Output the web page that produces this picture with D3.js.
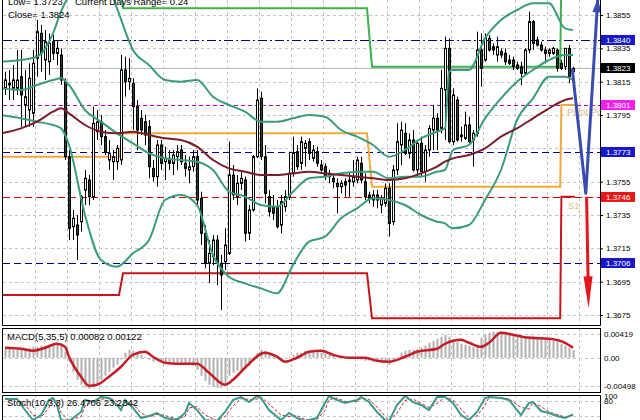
<!DOCTYPE html>
<html><head><meta charset="utf-8">
<script src="https://cdn.jsdelivr.net/npm/d3@7"></script>
<style>body{margin:0;background:#fff}svg{display:block;font-family:"Liberation Sans",Arial,sans-serif}</style>
</head><body><svg id="c" width="640" height="420"></svg>
<script>
// ---------- DATA ----------
const opens=[1.3811,1.3814,1.3811,1.3811,1.3818,1.3801,1.3798,1.3796,1.3829,1.3844,
1.3828,1.3827,1.3839,1.3832,1.3831,1.3815,1.3770,1.3728,1.3729,1.3731,
1.3750,1.3756,1.3746,1.3785,1.3791,1.3782,1.3768,1.3767,1.3767,1.3768,
1.3822,1.3815,1.3814,1.3800,1.3793,1.3791,1.3788,1.3763,1.3758,1.3777,
1.3767,1.3769,1.3766,1.3770,1.3774,1.3766,1.3762,1.3764,1.3770,1.3745,
1.3724,1.3706,1.3710,1.3720,1.3706,1.3707,1.3712,1.3759,1.3746,1.3754,
1.3756,1.3724,1.3738,1.3770,1.3805,1.3770,1.3746,1.3740,1.3740,1.3729,
1.3740,1.3746,1.3760,1.3773,1.3766,1.3775,1.3779,1.3769,1.3773,1.3765,
1.3764,1.3760,1.3757,1.3754,1.3752,1.3755,1.3755,1.3755,1.3756,1.3766,
1.3755,1.3747,1.3744,1.3747,1.3741,1.3742,1.3751,1.3731,1.3762,1.3777,
1.3784,1.3772,1.3780,1.3762,1.3778,1.3761,1.3774,1.3786,1.3793,1.3787,
1.3810,1.3835,1.3779,1.3804,1.3782,1.3781,1.3789,1.3780,1.3784,1.3834,
1.3828,1.3841,1.3836,1.3831,1.3833,1.3832,1.3828,1.3828,1.3825,1.3824,
1.3820,1.3834,1.3851,1.3840,1.3837,1.3834,1.3832,1.3832,1.3834,1.3826,
1.3824,1.3835,1.3821];
const highs=[1.3821,1.3822,1.3825,1.3834,1.3834,1.3822,1.3826,1.3834,1.3852,1.3849,
1.3846,1.3844,1.3843,1.3840,1.3835,1.3817,1.3774,1.3738,1.3735,1.3747,
1.3762,1.3759,1.3800,1.3798,1.3795,1.3786,1.3780,1.3774,1.3777,1.3831,
1.3830,1.3829,1.3817,1.3804,1.3798,1.3795,1.3792,1.3768,1.3780,1.3780,
1.3776,1.3774,1.3774,1.3777,1.3777,1.3771,1.3770,1.3774,1.3774,1.3749,
1.3729,1.3720,1.3723,1.3723,1.3711,1.3727,1.3779,1.3765,1.3759,1.3762,
1.3758,1.3741,1.3771,1.3811,1.3809,1.3777,1.3750,1.3747,1.3744,1.3747,
1.3750,1.3773,1.3782,1.3777,1.3782,1.3780,1.3781,1.3777,1.3776,1.3768,
1.3766,1.3762,1.3759,1.3757,1.3756,1.3757,1.3761,1.3768,1.3770,1.3770,
1.3760,1.3749,1.3750,1.3750,1.3747,1.3754,1.3754,1.3765,1.3790,1.3791,
1.3790,1.3784,1.3786,1.3780,1.3782,1.3777,1.3789,1.3801,1.3796,1.3822,
1.3842,1.3841,1.3811,1.3806,1.3788,1.3797,1.3794,1.3786,1.3845,1.3844,
1.3844,1.3843,1.3838,1.3842,1.3835,1.3835,1.3831,1.3830,1.3827,1.3827,
1.3835,1.3857,1.3852,1.3842,1.3839,1.3836,1.3835,1.3836,1.3835,1.3828,
1.3835,1.3837,1.3824];
const lows=[1.3807,1.3804,1.3804,1.3807,1.3788,1.3788,1.3788,1.3788,1.3818,1.3821,
1.3816,1.3819,1.3828,1.3825,1.3813,1.3768,1.3720,1.3720,1.3708,1.3725,
1.3741,1.3741,1.3744,1.3780,1.3777,1.3771,1.3762,1.3756,1.3762,1.3765,
1.3806,1.3810,1.3786,1.3774,1.3783,1.3777,1.3757,1.3755,1.3752,1.3762,
1.3756,1.3762,1.3759,1.3762,1.3765,1.3758,1.3754,1.3761,1.3741,1.3717,
1.3703,1.3694,1.3705,1.3693,1.3678,1.3702,1.3711,1.3744,1.3741,1.3750,
1.3719,1.3720,1.3737,1.3769,1.3768,1.3742,1.3734,1.3732,1.3727,1.3724,
1.3737,1.3744,1.3758,1.3762,1.3762,1.3764,1.3768,1.3767,1.3764,1.3761,
1.3756,1.3754,1.3751,1.3736,1.3748,1.3746,1.3746,1.3752,1.3754,1.3754,
1.3744,1.3742,1.3740,1.3739,1.3736,1.3740,1.3722,1.3729,1.3759,1.3765,
1.3771,1.3769,1.3761,1.3758,1.3758,1.3755,1.3770,1.3774,1.3774,1.3784,
1.3780,1.3778,1.3777,1.3779,1.3779,1.3780,1.3778,1.3764,1.3782,1.3812,
1.3827,1.3833,1.3831,1.3827,1.3829,1.3825,1.3825,1.3822,1.3822,1.3813,
1.3819,1.3832,1.3834,1.3836,1.3833,1.3826,1.3830,1.3831,1.3821,1.3822,
1.3822,1.3814,1.3820];
const closes=[1.3816,1.3813,1.3816,1.3816,1.3807,1.3806,1.3817,1.3826,1.3845,1.3832,
1.3839,1.3838,1.3832,1.3835,1.3816,1.3770,1.3727,1.3733,1.3723,1.3746,
1.3757,1.3746,1.3790,1.3791,1.3782,1.3773,1.3772,1.3770,1.3775,1.3822,
1.3815,1.3817,1.3800,1.3786,1.3786,1.3783,1.3764,1.3758,1.3777,1.3766,
1.3769,1.3766,1.3771,1.3773,1.3767,1.3763,1.3764,1.3770,1.3744,1.3724,
1.3706,1.3712,1.3720,1.3706,1.3699,1.3717,1.3759,1.3747,1.3754,1.3757,
1.3724,1.3738,1.3770,1.3804,1.3770,1.3748,1.3737,1.3736,1.3728,1.3743,
1.3746,1.3760,1.3772,1.3764,1.3779,1.3778,1.3772,1.3774,1.3766,1.3762,
1.3758,1.3758,1.3755,1.3752,1.3754,1.3753,1.3756,1.3758,1.3768,1.3756,
1.3746,1.3745,1.3747,1.3744,1.3745,1.3751,1.3730,1.3762,1.3779,1.3786,
1.3772,1.3780,1.3762,1.3778,1.3761,1.3774,1.3787,1.3793,1.3786,1.3811,
1.3835,1.3779,1.3807,1.3780,1.3783,1.3789,1.3779,1.3784,1.3834,1.3823,
1.3841,1.3834,1.3834,1.3836,1.3831,1.3827,1.3826,1.3824,1.3823,1.3820,
1.3834,1.3851,1.3838,1.3837,1.3834,1.3832,1.3834,1.3835,1.3823,1.3823,
1.3835,1.3818,1.3823];

// Bollinger bands and moving average, sampled at bar indexes
const bandIdx=[-1,4,8,12,14,16,20,24,28,32,36,40,44,48,52,56,60,64,68,72,76,80,84,88,92,96,100,104,108,110,111,112,116,120,124,128,132,136,140,142];
const bbUpper=[1.3827,1.3828,1.3830,1.3844,1.3857,1.3867,1.3882,1.3882,1.3859,1.3834,1.3825,1.3816,1.3815,1.3816,1.3806,1.3801,1.3797,1.3791,1.3791,1.3793,1.3795,1.3794,1.3786,1.3782,1.3777,1.3770,1.3774,1.3781,1.3785,1.3787,1.3821,1.3822,1.3822,1.3841,1.3852,1.3858,1.3862,1.3862,1.3847,1.3846];
const bbMiddle=[1.3811,1.3810,1.3813,1.3816,1.3817,1.3813,1.3798,1.3791,1.3784,1.3778,1.3772,1.3769,1.3768,1.3767,1.3762,1.3749,1.3746,1.3741,1.3740,1.3749,1.3757,1.3758,1.3760,1.3761,1.3761,1.3757,1.3758,1.3758,1.3761,1.3762,1.3768,1.3774,1.3777,1.3793,1.3805,1.3815,1.3822,1.3828,1.3831,1.3831];
const bbLower=[1.3795,1.3793,1.3791,1.3789,1.3787,1.3777,1.3735,1.3708,1.3704,1.3712,1.3720,1.3744,1.3747,1.3741,1.3711,1.3698,1.3694,1.3691,1.3688,1.3705,1.3719,1.3722,1.3733,1.3739,1.3745,1.3744,1.3741,1.3735,1.3731,1.3730,1.3728,1.3727,1.3729,1.3744,1.3762,1.3792,1.3805,1.3818,1.3818,1.3816];
const maLine=[1.3784,1.3787,1.3791,1.3797,1.3799,1.3796,1.3789,1.3785,1.3784,1.3785,1.3783,1.3781,1.3780,1.3776,1.3768,1.3763,1.3761,1.3759,1.3759,1.3760,1.3761,1.3760,1.3759,1.3758,1.3757,1.3756,1.3757,1.3760,1.3764,1.3767,1.3768,1.3769,1.3771,1.3775,1.3782,1.3787,1.3793,1.3799,1.3804,1.3805];

// daily pivot levels
const dayStart=[-1,29.5,91.75,139.1];
const dayEnd=[28.5,90.5,138.8,142.5];
const pivotP=[1.3770,1.3784,1.3752,1.3801];
const pivotR1=[1.3880,1.3859,1.3824,1.3879];
const pivotS1=[1.3687,1.3700,1.3673,1.3746];

// horizontal levels
const levelPrices=[1.3840,1.3801,1.3773,1.3746,1.3706];
const levelColors=["#00008b","#c000c0","#00008b","#cc0000","#00008b"];
const levelBoxColors=["#1818c8","#f020f0","#1818c8","#e81818","#1818c8"];
const levelDash=["9,3,2,3","4,3","7,4","7,4","7,4"];
const lastPrice=1.3823;
const priceTicks=[1.3855,1.3835,1.3815,1.3795,1.3775,1.3755,1.3735,1.3715,1.3695,1.3675];
const priceTickLabels=[1.3855,1.3835,1.3815,1.3795,1.3755,1.3735,1.3715,1.3695,1.3675];

// forecast arrows
const blueIdx=[141.8,145.2,148.2];
const blueVal=[1.3823,1.3748,1.3865];
const redIdx=[145.4,145.9];
const redVal=[1.3746,1.3679];

// MACD
const macdHist=[0.00159,0.00159,0.00141,0.00141,0.00159,0.00176,0.00176,0.00194,0.00194,0.00212,
0.00212,0.00229,0.00247,0.00247,0.00212,0.00106,-0.00070,-0.00247,-0.00388,-0.00476,
-0.00529,-0.00547,-0.00529,-0.00458,-0.00388,-0.00317,-0.00247,-0.00176,-0.00123,-0.00035,
0.00088,0.00141,0.00123,0.00088,0.00053,0.00018,-0.00035,-0.00070,-0.00053,-0.00070,
-0.00070,-0.00070,-0.00088,-0.00088,-0.00106,-0.00106,-0.00123,-0.00141,-0.00212,-0.00317,
-0.00405,-0.00476,-0.00511,-0.00529,-0.00529,-0.00458,-0.00317,-0.00264,-0.00229,-0.00212,
-0.00194,-0.00141,-0.00035,0.00088,0.00141,0.00123,0.00070,0.00018,-0.00018,-0.00035,
0.00000,0.00018,0.00053,0.00088,0.00088,0.00123,0.00123,0.00123,0.00106,0.00088,
0.00070,0.00053,0.00035,0.00000,0.00000,-0.00018,-0.00018,-0.00018,-0.00018,-0.00035,
-0.00053,-0.00053,-0.00070,-0.00070,-0.00088,-0.00088,-0.00123,-0.00070,0.00018,0.00088,
0.00123,0.00141,0.00141,0.00159,0.00176,0.00212,0.00264,0.00299,0.00334,0.00370,
0.00405,0.00370,0.00317,0.00282,0.00247,0.00229,0.00212,0.00194,0.00229,0.00352,
0.00405,0.00440,0.00458,0.00458,0.00458,0.00440,0.00440,0.00422,0.00405,0.00387,
0.00370,0.00387,0.00387,0.00370,0.00352,0.00334,0.00317,0.00299,0.00282,0.00247,
0.00212,0.00176,0.00141];
const sigIdx=[0,4,7,10,13,15,16,19,21,23,26,29,32,35,37,40,43,48,51,55,57,60,65,68,70,73,76,79,82,86,90,93,96,100,103,108,110,114,116,119,121,124,127,131,136,140,142];
const sigVal=[0.00176,0.00159,0.00123,0.00176,0.00247,0.00194,0.00018,-0.00334,-0.00493,-0.00476,-0.00334,-0.00158,0.00053,0.00106,0.00018,-0.00088,-0.00106,-0.00106,-0.00264,-0.00476,-0.00388,-0.00176,0.00088,0.00018,-0.00070,0.00000,0.00106,0.00123,0.00053,0.00000,0.00000,-0.00053,-0.00070,0.00018,0.00106,0.00159,0.00247,0.00317,0.00264,0.00194,0.00264,0.00440,0.00405,0.00352,0.00334,0.00264,0.00176];
const macdTicks=[0.00419,0,-0.00498];

// Stochastic
const stIdx=[0,3,5,7,9,11,12,13,14,16,19,20,22,24,26,28,29,30,32,34,36,38,40,43,45,46,48,50,53,55,57,59,61,63,64,66,69,71,73,75,78,80,81,83,85,88,89,91,93,95,96,98,100,102,104,106,108,110,112,114,116,118,120,121,124,126,129,131,132,134,136,138,140,142];
const stK=[88,88,44,4,24,84,92,64,4,0,36,84,76,96,92,64,44,84,52,12,20,32,12,4,32,72,44,4,0,36,84,96,76,100,92,44,4,32,12,0,12,72,100,84,72,84,96,76,36,4,0,64,100,76,64,44,96,96,72,24,4,36,92,96,92,84,24,72,76,40,32,20,12,26];
const stD=[90,88,66,24,14,54,88,78,34,2,18,60,80,86,94,78,54,64,68,32,16,26,22,8,18,52,58,24,2,18,60,90,86,88,96,68,24,18,22,6,6,42,86,92,78,78,90,86,56,20,2,32,82,88,70,54,70,96,84,48,14,20,64,94,94,88,54,48,74,58,36,26,16,23];

// ---------- CHART ----------
const svg=d3.select("#c");
const x=d3.scaleLinear().domain([0,142]).range([5,573]);
const y=d3.scaleLinear().domain([1.3675,1.3855]).range([315,15]);
const yM=d3.scaleLinear().domain([-0.00498,0.00419]).range([386,334]);
const yS=d3.scaleLinear().domain([0,100]).range([421,396]);

const defs=svg.append("defs");
defs.append("clipPath").attr("id","cm").append("rect").attr("x",3).attr("y",0).attr("width",597).attr("height",325);
defs.append("clipPath").attr("id","cd").append("rect").attr("x",3).attr("y",329).attr("width",597).attr("height",63);
defs.append("clipPath").attr("id","cs").append("rect").attr("x",3).attr("y",396).attr("width",597).attr("height",24);

const gridX=d3.range(7.5,144,8);
const gridCol="#c4c4c4";

// main panel
const gM=svg.append("g").attr("clip-path","url(#cm)");
gM.selectAll("line.vg").data(gridX).join("line").attr("class","vg")
 .attr("x1",d=>Math.round(x(d))+0.5).attr("x2",d=>Math.round(x(d))+0.5).attr("y1",0).attr("y2",325)
 .attr("stroke",gridCol).attr("stroke-dasharray","3,3");
gM.selectAll("line.hg").data(priceTicks).join("line").attr("class","hg")
 .attr("x1",3).attr("x2",600).attr("y1",d=>Math.round(y(d))+0.5).attr("y2",d=>Math.round(y(d))+0.5)
 .attr("stroke",gridCol).attr("stroke-dasharray","3,3");
levelPrices.forEach((p,i)=>{
  gM.append("line").attr("x1",3).attr("x2",600).attr("y1",Math.round(y(p))+0.5).attr("y2",Math.round(y(p))+0.5)
   .attr("stroke",levelColors[i]).attr("stroke-dasharray",levelDash[i]);
});
gM.append("line").attr("x1",3).attr("x2",600).attr("y1",Math.round(y(lastPrice))+0.5).attr("y2",Math.round(y(lastPrice))+0.5)
 .attr("stroke","#b8b8b8");

// pivot step lines
function stepPts(vals){const pts=[];vals.forEach((v,i)=>{pts.push([dayStart[i],v]);pts.push([dayEnd[i],v]);});return pts;}
const lineP=d3.line().x(d=>x(d[0])).y(d=>y(d[1]));
[[pivotP,"#f2a83a"],[pivotR1,"#3fb24e"],[pivotS1,"#c5161d"]].forEach(([v,c])=>{
  gM.append("path").attr("d",lineP(stepPts(v))).attr("fill","none").attr("stroke",c).attr("stroke-width",2);
});
gM.append("text").attr("x",567).attr("y",115).attr("fill","#e9b97a").attr("font-size",9.5).text("Pivot Point");
gM.append("text").attr("x",568).attr("y",209).attr("fill","#e9b97a").attr("font-size",9.5).text("S1");

// candles
const idx=d3.range(opens.length);
gM.selectAll("line.wick").data(idx).join("line").attr("class","wick")
 .attr("x1",i=>Math.round(x(i))+0.5).attr("x2",i=>Math.round(x(i))+0.5)
 .attr("y1",i=>y(highs[i])).attr("y2",i=>y(lows[i])).attr("stroke","#000");
gM.selectAll("rect.body").data(idx).join("rect").attr("class","body")
 .attr("x",i=>Math.round(x(i))-0.5).attr("width",2)
 .attr("y",i=>Math.min(y(opens[i]),y(closes[i])))
 .attr("height",i=>Math.max(1,Math.abs(y(opens[i])-y(closes[i]))))
 .attr("fill",i=>closes[i]>=opens[i]?"#ffffff":"#24422a").attr("stroke","#000").attr("stroke-width",1);

// bands + MA
const bl=d3.line().x((d,i)=>x(bandIdx[i])).y(d=>y(d)).curve(d3.curveMonotoneX);
[bbUpper,bbMiddle,bbLower].forEach(arr=>{
  gM.append("path").attr("d",bl(arr)).attr("fill","none").attr("stroke","#3a9c7c").attr("stroke-width",2);
});
gM.append("path").attr("d",bl(maLine)).attr("fill","none").attr("stroke","#7a1d2b").attr("stroke-width",2);

// forecast arrows
function head(p1,p2,len,hw){const dx=p2[0]-p1[0],dy=p2[1]-p1[1],L=Math.hypot(dx,dy),ux=dx/L,uy=dy/L;
  const bx=p2[0]-ux*len,by=p2[1]-uy*len;return [[p2[0],p2[1]],[bx-uy*hw,by+ux*hw],[bx+uy*hw,by-ux*hw]];}
const bPts=blueIdx.map((d,i)=>[x(d),y(blueVal[i])]);
gM.append("path").attr("d",d3.line()(bPts)).attr("fill","none").attr("stroke","#3a4caf").attr("stroke-width",3).attr("stroke-linejoin","round");
gM.append("polygon").attr("points",head(bPts[1],bPts[2],14,4.5).join(" ")).attr("fill","#3a4caf");
const rPts=redIdx.map((d,i)=>[x(d),y(redVal[i])]);
gM.append("path").attr("d",d3.line()([rPts[0],head(rPts[0],rPts[1],30,0)[1]])).attr("fill","none").attr("stroke","#e3181d").attr("stroke-width",3);
gM.append("polygon").attr("points",head(rPts[0],rPts[1],32,4.5).join(" ")).attr("fill","#e3181d");

// top-left info text
const info=svg.append("g").attr("font-size",9.5).attr("fill","#000");
info.append("text").attr("x",8).attr("y",5).text("Low= 1.3723");
info.append("text").attr("x",75).attr("y",5).text("Current Days Range= 0.24");
info.append("text").attr("x",8).attr("y",18).text("Close= 1.3824");

// main axis
const axM=svg.append("g").attr("transform","translate(600,0)")
 .call(d3.axisRight(y).tickValues(priceTicks).tickSize(3).tickPadding(3)
   .tickFormat(d=>priceTickLabels.includes(d)?d3.format(".4f")(d):""));
axM.select(".domain").remove();
axM.selectAll("text").attr("font-size",8).attr("font-family","Liberation Sans, Arial, sans-serif");
const boxes=levelPrices.concat([lastPrice]);
const boxCols=levelBoxColors.concat(["#000000"]);
boxes.forEach((p,i)=>{
  const yy=Math.round(y(p));
  svg.append("rect").attr("x",601).attr("y",yy-5).attr("width",34).attr("height",10).attr("fill",boxCols[i]);
  svg.append("text").attr("x",606).attr("y",yy+3).attr("fill","#fff").attr("font-size",8).text(d3.format(".4f")(p));
});

// MACD panel
const gD=svg.append("g").attr("clip-path","url(#cd)");
gD.selectAll("line.vg").data(gridX).join("line").attr("class","vg")
 .attr("x1",d=>Math.round(x(d))+0.5).attr("x2",d=>Math.round(x(d))+0.5).attr("y1",328).attr("y2",392)
 .attr("stroke",gridCol).attr("stroke-dasharray","3,3");
gD.selectAll("line.hg").data(macdTicks).join("line").attr("class","hg")
 .attr("x1",3).attr("x2",600).attr("y1",d=>Math.round(yM(d))+0.5).attr("y2",d=>Math.round(yM(d))+0.5)
 .attr("stroke",gridCol).attr("stroke-dasharray","3,3");
gD.selectAll("rect.h").data(macdHist).join("rect").attr("class","h")
 .attr("x",(d,i)=>Math.round(x(i))-0.5).attr("width",2)
 .attr("y",d=>Math.min(yM(d),yM(0))).attr("height",d=>Math.abs(yM(d)-yM(0)))
 .attr("fill","#b0b0b0");
gD.append("path").attr("d",d3.line().x((d,i)=>x(sigIdx[i])).y(d=>yM(d)).curve(d3.curveMonotoneX)(sigVal))
 .attr("fill","none").attr("stroke","#c41d24").attr("stroke-width",2.5);
svg.append("text").attr("x",7).attr("y",340).attr("font-size",9.5).text("MACD(5,35,5) 0.00082 0.00122");
const axD=svg.append("g").attr("transform","translate(600,0)")
 .call(d3.axisRight(yM).tickValues(macdTicks).tickSize(0).tickPadding(4).tickFormat(d=>d===0?"0.00":d3.format(".5f")(d).replace("\u2212","-")));
axD.select(".domain").remove();
axD.selectAll("text").attr("font-size",8).attr("font-family","Liberation Sans, Arial, sans-serif");

// Stoch panel
const gS=svg.append("g").attr("clip-path","url(#cs)");
gS.selectAll("line.vg").data(gridX).join("line").attr("class","vg")
 .attr("x1",d=>Math.round(x(d))+0.5).attr("x2",d=>Math.round(x(d))+0.5).attr("y1",395).attr("y2",420)
 .attr("stroke",gridCol).attr("stroke-dasharray","3,3");
gS.selectAll("line.hg").data([80,20]).join("line").attr("class","hg")
 .attr("x1",3).attr("x2",600).attr("y1",d=>Math.round(yS(d))+0.5).attr("y2",d=>Math.round(yS(d))+0.5)
 .attr("stroke",gridCol).attr("stroke-dasharray","3,3");
gS.append("path").attr("d",d3.line().x((d,i)=>x(stIdx[i])).y(d=>yS(d))(stD))
 .attr("fill","none").attr("stroke","#d0242a").attr("stroke-width",1).attr("stroke-dasharray","3,2");
gS.append("path").attr("d",d3.line().x((d,i)=>x(stIdx[i])).y(d=>yS(d))(stK))
 .attr("fill","none").attr("stroke","#3a9a8a").attr("stroke-width",2);
svg.append("text").attr("x",7).attr("y",406).attr("font-size",9.5).text("Stoch(10,3,3) 26.4706 23.2342");
const axS=svg.append("g").attr("transform","translate(600,0)")
 .call(d3.axisRight(yS).tickValues([100,80]).tickSize(0).tickPadding(4));
axS.select(".domain").remove();
axS.selectAll("text").attr("font-size",8).attr("font-family","Liberation Sans, Arial, sans-serif");

// panel borders
const bc="#000";
svg.append("path").attr("d","M2.5,0V325.5H600.5V0").attr("fill","none").attr("stroke",bc);
svg.append("rect").attr("x",2.5).attr("y",328.5).attr("width",598).attr("height",64).attr("fill","none").attr("stroke",bc);
svg.append("path").attr("d","M2.5,421V395.5H600.5V421").attr("fill","none").attr("stroke",bc);
</script></body></html>
